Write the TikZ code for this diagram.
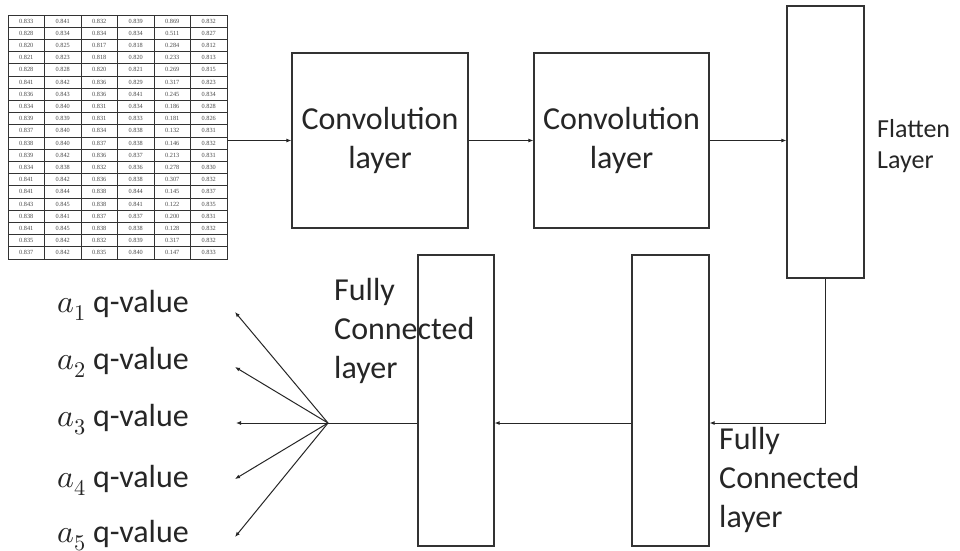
\documentclass[tikz,border=0pt]{standalone}
\usepackage{fontspec}
\usepackage{unicode-math}
\setmainfont{Carlito}
\newfontfamily\tabfont{Liberation Serif}
\usetikzlibrary{arrows.meta}
\begin{document}
\begin{tikzpicture}[x=1pt,y=-1pt]
\tikzset{
  layerbox/.style={draw=black!80,line width=1.2pt,inner sep=0pt},
  big/.style={font=\fontsize{32}{39}\selectfont,text=black!85},
  lbl/.style={big,align=left,inner sep=0pt},
  conn/.style={draw=black!85,line width=1pt},
  arr/.style={conn,-{Latex[length=5pt,width=4pt]}},
  gridline/.style={draw=black!80,line width=0.8pt},
  tabtxt/.style={font=\tabfont\fontsize{6.3}{7}\selectfont,text=black!70,inner sep=0pt}
}
\useasboundingbox (0,0) rectangle (960,550);
\fill[white] (0,0) rectangle (960,550);

% data table
\node[draw=black!80,line width=1pt,minimum width=219pt,minimum height=244pt,inner sep=0pt,anchor=north west] (table) at (8,15) {};
\foreach \i in {1,...,5} \draw[gridline] ({8+\i*36.5},15) -- ({8+\i*36.5},259);
\foreach \j in {1,...,19} \draw[gridline] (8,{15+\j*12.2}) -- (227,{15+\j*12.2});
\foreach \row [count=\r] in {
 {0.833,0.841,0.832,0.839,0.869,0.832},
 {0.828,0.834,0.834,0.834,0.511,0.827},
 {0.820,0.825,0.817,0.818,0.284,0.812},
 {0.821,0.823,0.818,0.820,0.233,0.813},
 {0.828,0.828,0.820,0.821,0.269,0.815},
 {0.841,0.842,0.836,0.829,0.317,0.823},
 {0.836,0.843,0.836,0.841,0.245,0.834},
 {0.834,0.840,0.831,0.834,0.186,0.828},
 {0.839,0.839,0.831,0.833,0.181,0.826},
 {0.837,0.840,0.834,0.838,0.132,0.831},
 {0.838,0.840,0.837,0.838,0.146,0.832},
 {0.839,0.842,0.836,0.837,0.213,0.831},
 {0.834,0.838,0.832,0.836,0.278,0.830},
 {0.841,0.842,0.836,0.838,0.307,0.832},
 {0.841,0.844,0.838,0.844,0.145,0.837},
 {0.843,0.845,0.838,0.841,0.122,0.835},
 {0.838,0.841,0.837,0.837,0.200,0.831},
 {0.841,0.845,0.838,0.838,0.128,0.832},
 {0.835,0.842,0.832,0.839,0.317,0.832},
 {0.837,0.842,0.835,0.840,0.147,0.833}}
 \foreach \v [count=\c] in \row
   \node[tabtxt] (t\r-\c) at ({8+(\c-0.5)*36.5},{15+(\r-0.5)*12.2}) {\v};

% layer boxes
\node[layerbox,big,align=center,minimum width=176pt,minimum height=175pt] (conv1) at (380,140.5) {Convolution\\layer};
\node[layerbox,big,align=center,minimum width=175pt,minimum height=175pt] (conv2) at (621.5,140.5) {Convolution\\layer};
\node[layerbox,minimum width=77pt,minimum height=272pt] (flat) at (825.5,142) {};
\node[layerbox,minimum width=77pt,minimum height=291pt] (fc1) at (670.5,400.5) {};
\node[layerbox,minimum width=76pt,minimum height=291pt] (fc2) at (456,400.5) {};

% labels
\node[inner sep=0pt,align=left,anchor=west,font=\fontsize{26}{31}\selectfont,text=black!85] (flatlbl) at (877,146) {Flatten\\Layer};
\node[lbl,anchor=west] (fc1lbl) at (719,480) {Fully\\Connected\\layer};
\node[lbl,anchor=west] (fc2lbl) at (334,331) {Fully\\Connected\\layer};

\foreach \k/\y in {1/305,2/362,3/420,4/480,5/536}
  \node[lbl,anchor=west] (q\k) at (57,\y) {$a_{\k}$ q-value};

% connectors
\draw[arr] (table.east |- conv1.west) -- (conv1.west);
\draw[arr] (conv1.east) -- (conv2.west);
\draw[arr] (conv2.east) -- (conv2.east -| flat.west);
\coordinate (bend) at (825.5,423);
\draw[arr] (flat.south) -- (bend) -- (fc1.east |- bend);
\draw[arr] (fc1.west |- bend) -- (fc2.east |- bend);
\coordinate (fan) at (328,423);
\draw[conn] (fc2.west |- fan) -- (fan);
\coordinate (tip1) at (235,312);
\coordinate (tip2) at (235,367);
\coordinate (tip3) at (236,423);
\coordinate (tip4) at (235,479);
\coordinate (tip5) at (235,537);
\foreach \k in {1,...,5} \draw[arr] (fan) -- (tip\k);
\end{tikzpicture}
\end{document}
